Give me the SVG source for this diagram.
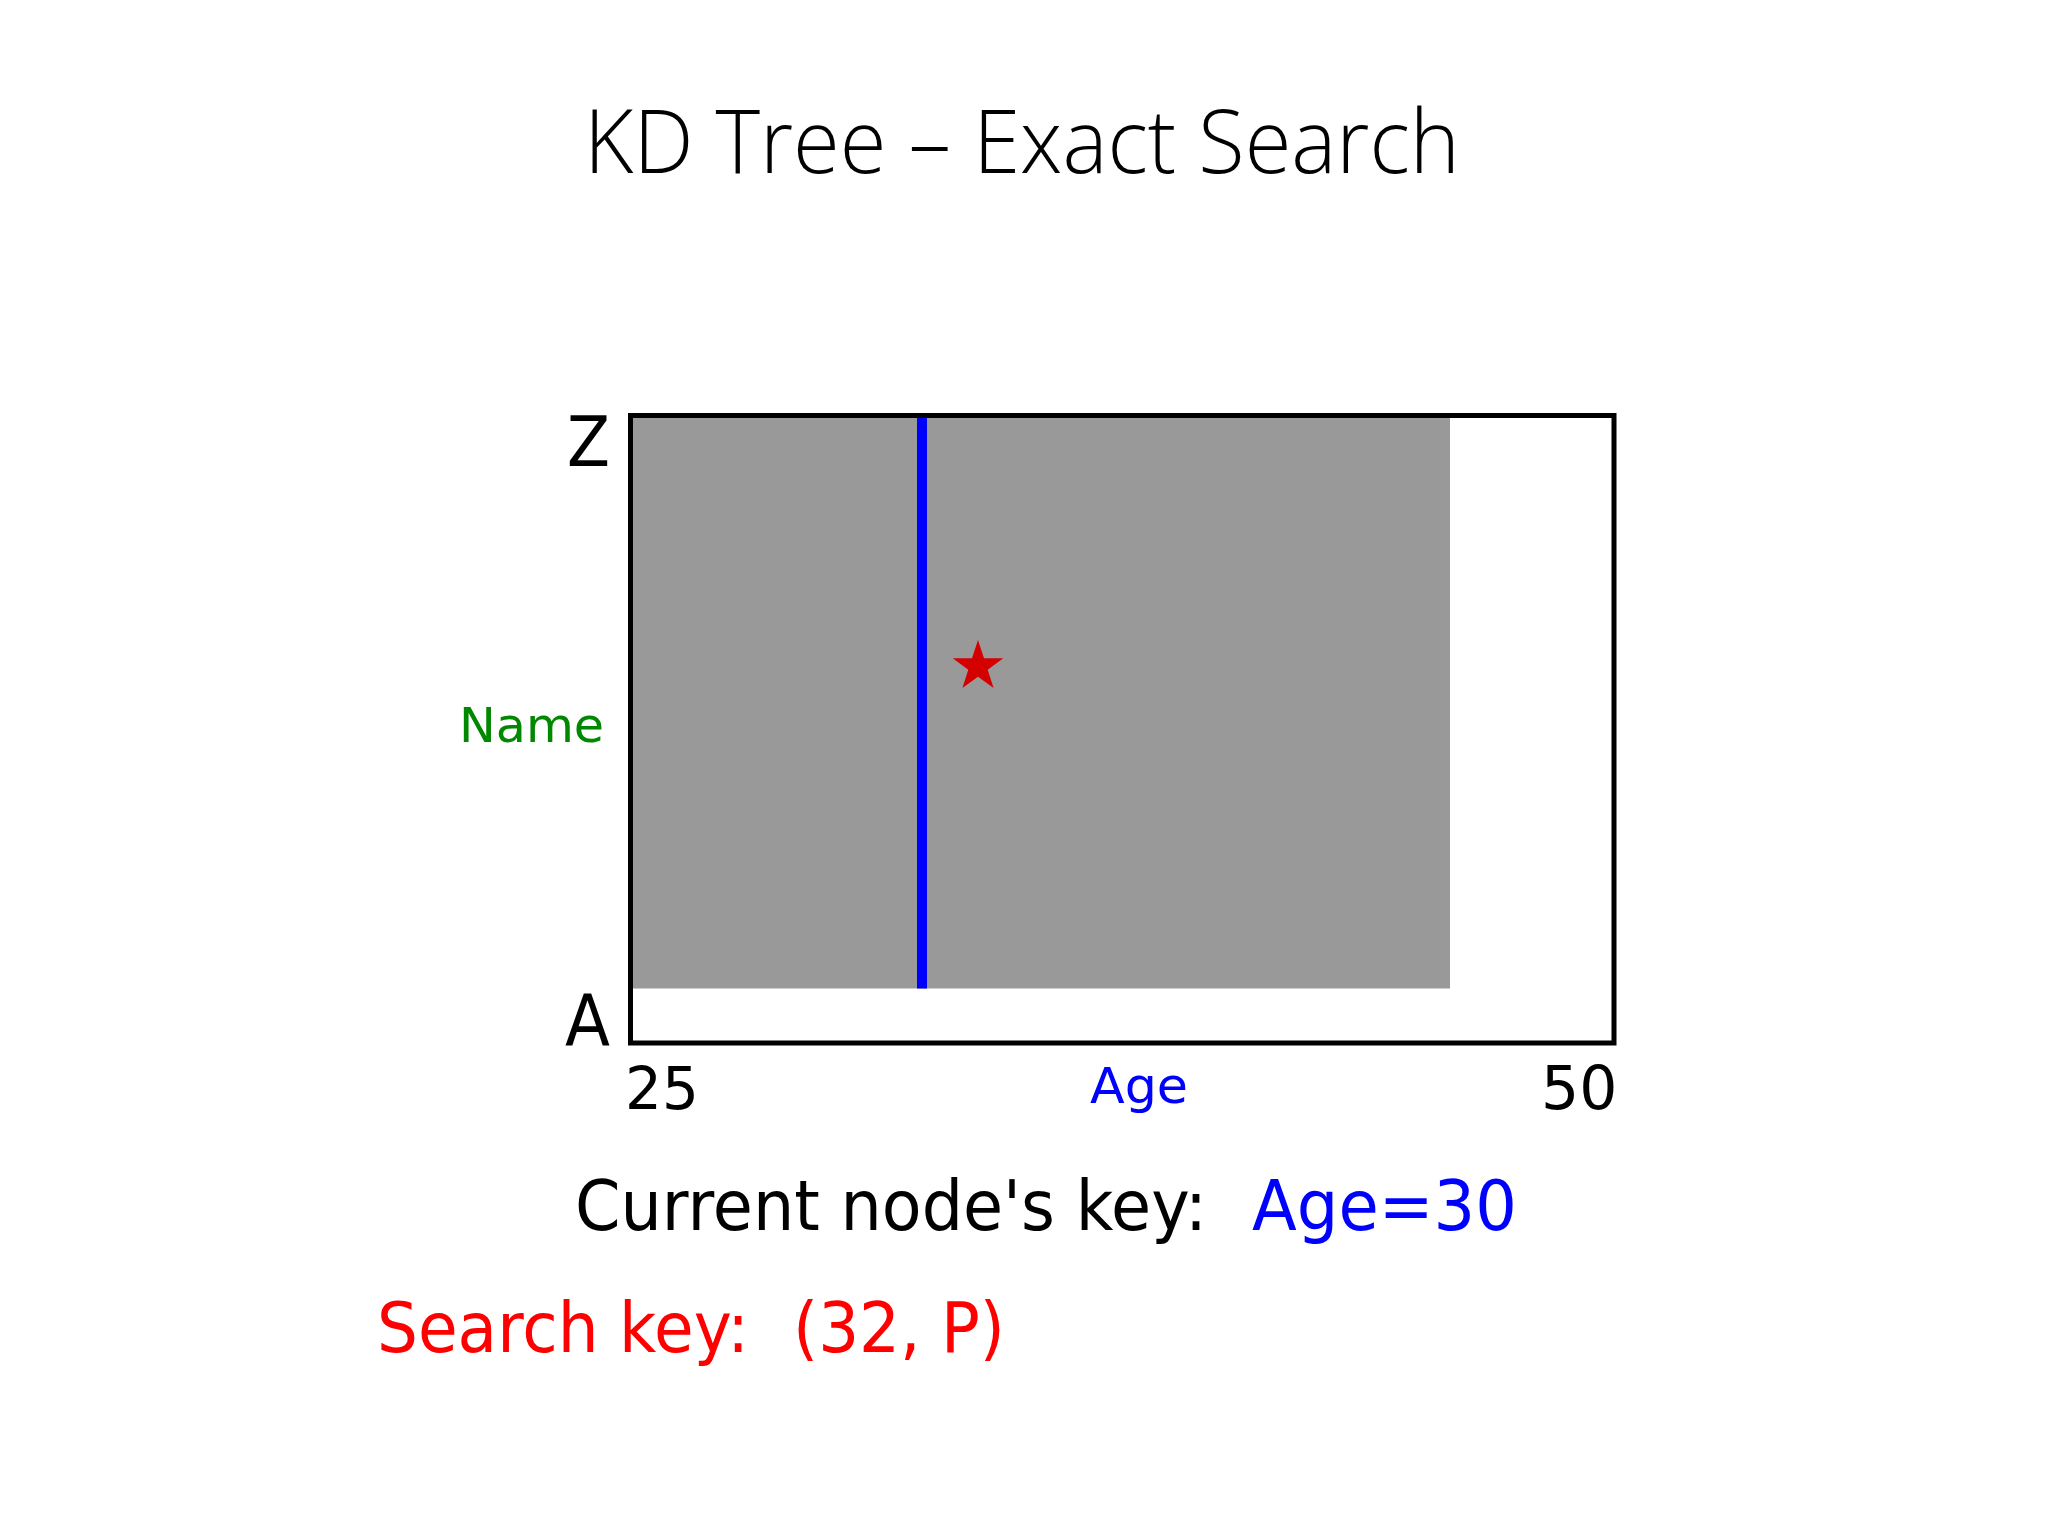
<svg xmlns="http://www.w3.org/2000/svg" width="2048" height="1536" viewBox="0 0 2048 1536">
<style>
.t{font-family:"Open Sans","Liberation Sans",sans-serif;font-weight:360;fill:#000}
.d{font-family:"DejaVu Sans",sans-serif}
</style>
<rect width="2048" height="1536" fill="#fff"/>
<g id="title">
<text class="t" x="1022" y="173" text-anchor="middle" font-size="89" textLength="876" lengthAdjust="spacingAndGlyphs">KD Tree – Exact Search</text>
</g>
<g id="plot">
<rect id="region" x="633" y="418" width="817" height="570.5" fill="#999999"/>
<line id="split" x1="922" y1="418" x2="922" y2="988.5" stroke="#0000ff" stroke-width="10"/>
<polygon id="star" fill="#d40000" points="978,640 984,658.3 1003.3,658.3 987.7,669.7 993.6,688 978,676.7 962.4,688 968.3,669.7 952.7,658.3 972,658.3"/>
<rect id="frame" x="630.5" y="415.5" width="983.5" height="627.5" fill="none" stroke="#000" stroke-width="5"/>
</g>
<g id="axis-labels" class="d">
<text x="567" y="466" font-size="70" textLength="43" lengthAdjust="spacingAndGlyphs">Z</text>
<text x="565" y="1045" font-size="71" textLength="45" lengthAdjust="spacingAndGlyphs">A</text>
<text x="459" y="742" font-size="48" fill="#008800" textLength="145" lengthAdjust="spacingAndGlyphs">Name</text>
<text x="625" y="1109" font-size="58">25</text>
<text x="1541" y="1109" font-size="60">50</text>
<text x="1090" y="1103" font-size="50" fill="#0000ff" textLength="98" lengthAdjust="spacingAndGlyphs">Age</text>
</g>
<g id="keys" class="d">
<text x="575" y="1230" font-size="70" textLength="632" lengthAdjust="spacingAndGlyphs">Current node's key:</text>
<text x="1252" y="1230" font-size="70" fill="#0000ff" textLength="265" lengthAdjust="spacingAndGlyphs">Age=30</text>
<text x="377" y="1352" font-size="69" fill="#ff0000" textLength="372" lengthAdjust="spacingAndGlyphs">Search key:</text>
<text x="793" y="1352" font-size="69" fill="#ff0000" textLength="212" lengthAdjust="spacingAndGlyphs">(32, P)</text>
</g>
</svg>
